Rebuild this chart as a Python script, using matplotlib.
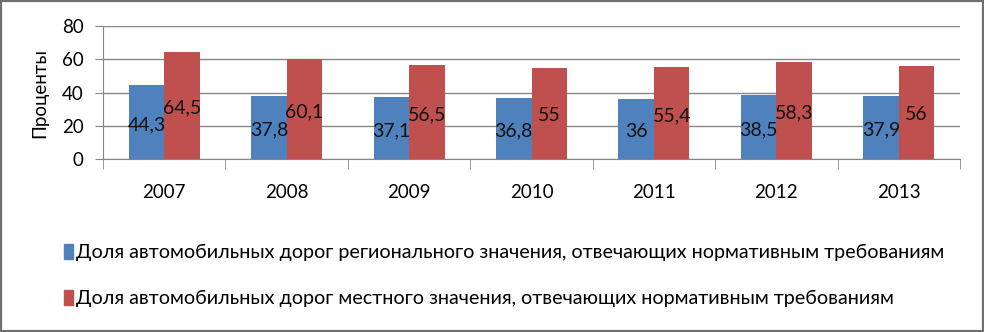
import numpy as np
import matplotlib.pyplot as plt
from matplotlib.patches import Rectangle, Patch

years = ['2007', '2008', '2009', '2010', '2011', '2012', '2013']
regional = [44.3, 37.8, 37.1, 36.8, 36, 38.5, 37.9]
local = [64.5, 60.1, 56.5, 55, 55.4, 58.3, 56]
series_names = [
    'Доля автомобильных дорог регионального значения, отвечающих нормативным требованиям',
    'Доля автомобильных дорог местного значения, отвечающих нормативным требованиям',
]
blue = '#4F81BD'
red = '#C0504D'

plt.rcParams['font.family'] = ['Lato', 'DejaVu Sans']

fig = plt.figure(figsize=(9.84, 3.32), dpi=100)
ax = fig.add_axes([0.1047, 0.521, 0.8709, 0.4006])

x = np.arange(len(years))
w = 0.29
b1 = ax.bar(x - w / 2, regional, w, color=blue, zorder=2)
b2 = ax.bar(x + w / 2, local, w, color=red, zorder=2)

def fmt(v):
    s = ('%g' % v).replace('.', ',')
    return s

for rects, vals in ((b1, regional), (b2, local)):
    for r, v in zip(rects, vals):
        ax.text(r.get_x() + r.get_width() / 2, v / 2 - 1.5, fmt(v), ha='center',
                va='center', fontsize=14, color='#111111', zorder=3)

ax.set_xlim(-0.5, len(years) - 0.5)
ax.set_ylim(0, 80)
ax.set_yticks([0, 20, 40, 60, 80])
ax.tick_params(axis='y', labelsize=13.5, length=6, color='#868686', pad=8)
ax.grid(axis='y', color='#868686', lw=1, zorder=1)
ax.set_xticks(x)
ax.set_xticklabels(years, fontsize=13.5)
ax.tick_params(axis='x', length=0, pad=18)
ax.set_xticks(np.arange(-0.5, len(years)), minor=True)
ax.tick_params(axis='x', which='minor', length=7, color='#868686')
ax.set_ylabel('Проценты', fontsize=13.5, labelpad=10)
for s in ('top', 'right'):
    ax.spines[s].set_visible(False)
for s in ('left', 'bottom'):
    ax.spines[s].set_color('#868686')

handles = [Patch(color=blue), Patch(color=red)]
fig.legend(handles, series_names, loc='upper left', bbox_to_anchor=(0.057, 0.29),
           frameon=False, fontsize=14.2, handlelength=0.45, handleheight=0.8,
           handletextpad=0.15, labelspacing=1.45, borderaxespad=0)

fig.patches.append(Rectangle((0, 0), 1, 1, transform=fig.transFigure, fill=False,
                             edgecolor='#6f6f6f', lw=3))

fig.savefig('out.png', dpi=100)
